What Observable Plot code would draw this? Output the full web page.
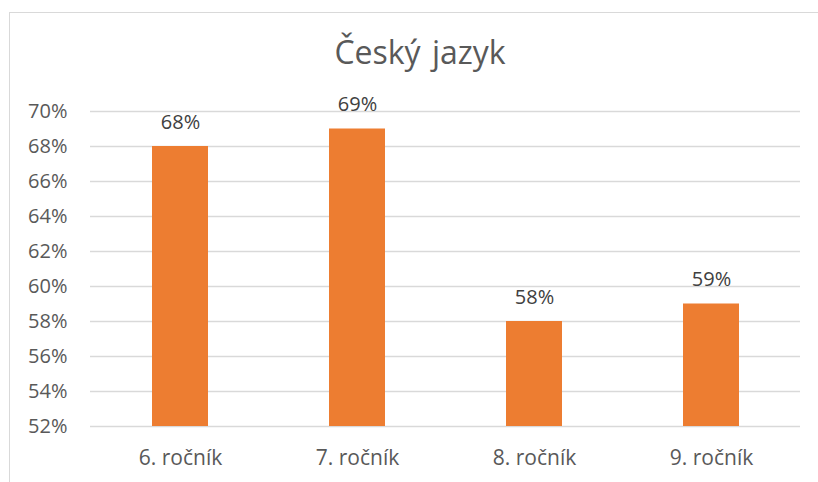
<!DOCTYPE html>
<html>
<head>
<meta charset="utf-8">
<script src="https://cdn.jsdelivr.net/npm/d3@7"></script>
<script src="https://cdn.jsdelivr.net/npm/@observablehq/plot@0.6"></script>
<style>
  html, body { margin: 0; padding: 0; background: #fff; }
  #wrap { position: relative; width: 818px; height: 482px; overflow: hidden; font-family: "Open Sans", sans-serif; }
  #border { position: absolute; left: 9px; top: 12px; width: 900px; height: 600px; border: 1.5px solid #d9d9d9; box-sizing: border-box; }
  #title { position: absolute; left: 0; width: 840px; top: 36px; line-height: 1; text-align: center; font-size: 32px; color: #595959; word-spacing: 3px; }
  #chart { position: absolute; left: 0; top: 0; }
</style>
</head>
<body>
<div id="wrap">
  <div id="border"></div>
  <div id="title"></div>
  <div id="chart"></div>
</div>
<script>
const titleText = "Český jazyk";
const categories = ["6. ročník", "7. ročník", "8. ročník", "9. ročník"];
const values = [68, 69, 58, 59];
const yTicks = [52, 54, 56, 58, 60, 62, 64, 66, 68, 70];

document.getElementById("title").textContent = titleText;
const data = categories.map((c, i) => ({ category: c, value: values[i] }));

const chart = Plot.plot({
  width: 818,
  height: 482,
  marginLeft: 90,
  marginRight: 18,
  marginTop: 111,
  marginBottom: 56,
  style: { fontFamily: "Open Sans, sans-serif", fontSize: "20px", color: "#595959", background: "transparent" },
  x: { domain: categories, paddingInner: 0.685, paddingOuter: 0.3425, label: null },
  y: { domain: [52, 70], label: null },
  marks: [
    Plot.gridY(yTicks, { stroke: "#d9d9d9", strokeOpacity: 1, strokeWidth: 1.5 }),
    Plot.axisY(yTicks, { tickSize: 0, tickPadding: 23, tickFormat: d => d + "%", fontSize: 20, fill: "#595959" }),
    Plot.axisX({ tickSize: 0, tickPadding: 24, fontSize: 21, fill: "#595959" }),
    Plot.barY(data, { x: "category", y1: 52, y2: "value", fill: "#ed7d31" }),
    Plot.text(data, { x: "category", y: "value", text: d => d.value + "%", dy: -24, fontSize: 20, fill: "#404040" })
  ]
});
document.getElementById("chart").appendChild(chart);
</script>
</body>
</html>
